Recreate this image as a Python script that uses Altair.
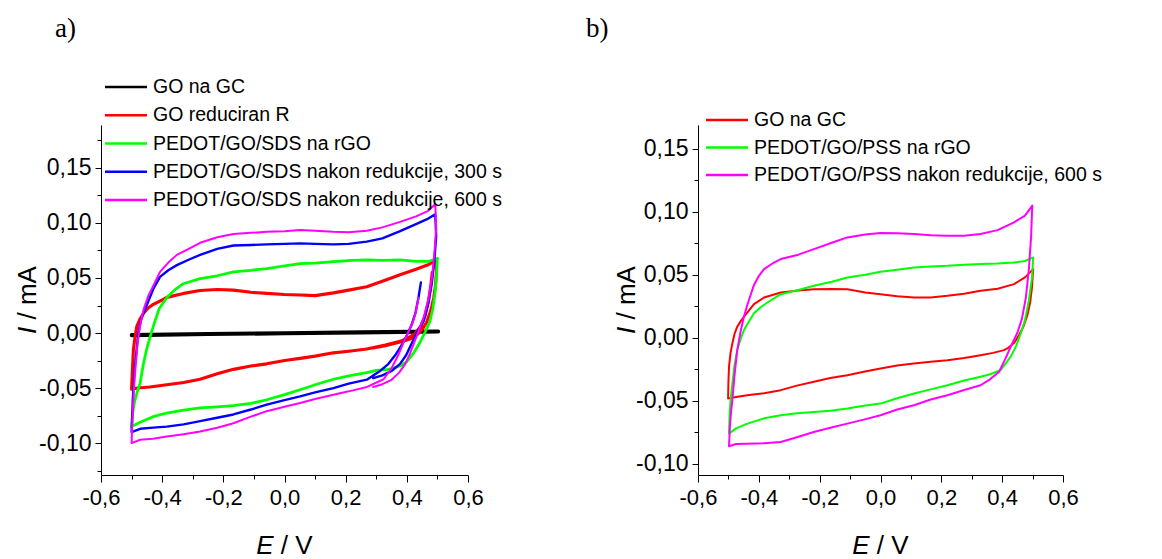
import altair as alt
import pandas as pd

# ---------------- data (E / V, I / mA) ----------------
A_NAMES = ["GO na GC", "GO reduciran R", "PEDOT/GO/SDS na rGO",
           "PEDOT/GO/SDS nakon redukcije, 300 s", "PEDOT/GO/SDS nakon redukcije, 600 s"]
A_COLORS = ["#000000", "#ff0000", "#00ff00", "#0000ff", "#ff00ff"]
A_WIDTHS = [3.5, 2, 2, 2, 2]

B_NAMES = ["GO na GC", "PEDOT/GO/PSS na rGO", "PEDOT/GO/PSS nakon redukcije, 600 s"]
B_COLORS = ["#ff0000", "#00ff00", "#ff00ff"]
B_WIDTHS = [2, 2, 2]

A_BLACK = [(-0.500, -0.0015), (-0.25, -0.0007), (0.0, 0.0001), (0.25, 0.0009), (0.503, 0.0017),
           (0.503, 0.0011), (0.25, 0.0003), (0.0, -0.0005), (-0.25, -0.0012), (-0.500, -0.0022)]

A_RED = [(0.483, 0.055), (0.478, 0.042), (0.470, 0.028), (0.460, 0.016), (0.445, 0.006), (0.425, -0.001),
         (0.400, -0.005), (0.378, -0.0076), (0.330, -0.011), (0.269, -0.0145), (0.210, -0.0165), (0.160, -0.018),
         (0.100, -0.021), (0.051, -0.023), (0.000, -0.025), (-0.058, -0.028), (-0.110, -0.030), (-0.167, -0.033),
         (-0.220, -0.037), (-0.276, -0.042), (-0.330, -0.045), (-0.385, -0.047), (-0.440, -0.049), (-0.480, -0.050),
         (-0.500, -0.051), (-0.497, -0.032), (-0.494, -0.015), (-0.489, -0.004), (-0.483, 0.006), (-0.472, 0.013),
         (-0.461, 0.018), (-0.445, 0.023), (-0.429, 0.026), (-0.400, 0.030), (-0.385, 0.0324), (-0.330, 0.036),
         (-0.276, 0.0386), (-0.220, 0.0395), (-0.167, 0.039), (-0.110, 0.037), (-0.058, 0.036), (0.000, 0.035),
         (0.051, 0.0345), (0.100, 0.034), (0.160, 0.0365), (0.210, 0.039), (0.269, 0.042), (0.320, 0.047),
         (0.378, 0.053), (0.430, 0.058), (0.470, 0.062), (0.493, 0.066), (0.497, 0.056), (0.494, 0.044),
         (0.488, 0.032), (0.478, 0.020), (0.465, 0.010), (0.450, 0.003), (0.432, -0.002), (0.410, -0.0055),
         (0.385, -0.0078), (0.330, -0.0115), (0.290, -0.0135)]

A_GREEN = [(-0.500, -0.085), (-0.496, -0.072), (-0.490, -0.062), (-0.481, -0.053), (-0.472, -0.0455),
           (-0.462, -0.029), (-0.451, -0.015), (-0.440, -0.004), (-0.429, 0.006), (-0.410, 0.022),
           (-0.385, 0.032), (-0.360, 0.039), (-0.331, 0.0448), (-0.276, 0.0494), (-0.220, 0.052),
           (-0.167, 0.0556), (-0.110, 0.057), (-0.058, 0.0586), (0.000, 0.061), (0.051, 0.063), (0.100, 0.0635),
           (0.160, 0.0648), (0.220, 0.066), (0.269, 0.0665), (0.320, 0.066), (0.378, 0.0664), (0.430, 0.065),
           (0.470, 0.065), (0.500, 0.068), (0.497, 0.052), (0.492, 0.036), (0.485, 0.022), (0.475, 0.010),
           (0.460, 0.001), (0.440, -0.010), (0.420, -0.019), (0.400, -0.026), (0.378, -0.030), (0.340, -0.033),
           (0.300, -0.034), (0.269, -0.036), (0.210, -0.039), (0.160, -0.042), (0.100, -0.047), (0.051, -0.0515),
           (0.000, -0.056), (-0.058, -0.0606), (-0.110, -0.064), (-0.167, -0.066), (-0.220, -0.067),
           (-0.276, -0.068), (-0.330, -0.070), (-0.385, -0.0727), (-0.430, -0.076), (-0.472, -0.081),
           (-0.500, -0.085)]

A_BLUE = [(0.446, 0.046), (0.438, 0.032), (0.428, 0.018), (0.415, 0.007), (0.400, -0.002), (0.385, -0.010),
          (0.365, -0.019), (0.340, -0.028), (0.310, -0.035), (0.269, -0.0424), (0.210, -0.046), (0.160, -0.050),
          (0.100, -0.054), (0.051, -0.0576), (0.000, -0.061), (-0.058, -0.065), (-0.110, -0.0695), (-0.167, -0.074),
          (-0.220, -0.077), (-0.276, -0.080), (-0.330, -0.083), (-0.385, -0.085), (-0.430, -0.086), (-0.472, -0.087),
          (-0.500, -0.090), (-0.496, -0.060), (-0.489, -0.030), (-0.478, 0.000), (-0.470, 0.011), (-0.461, 0.018),
          (-0.445, 0.029), (-0.429, 0.040), (-0.407, 0.051), (-0.380, 0.057), (-0.352, 0.0617), (-0.310, 0.067),
          (-0.276, 0.071), (-0.220, 0.0765), (-0.167, 0.0795), (-0.110, 0.080), (-0.058, 0.0805), (0.000, 0.081),
          (0.051, 0.0815), (0.100, 0.081), (0.160, 0.0805), (0.210, 0.081), (0.269, 0.083), (0.320, 0.086),
          (0.378, 0.0926), (0.430, 0.099), (0.470, 0.104), (0.493, 0.108), (0.496, 0.088), (0.490, 0.066),
          (0.482, 0.046), (0.470, 0.027), (0.455, 0.011), (0.432, 0.000), (0.415, -0.010), (0.398, -0.020),
          (0.378, -0.028), (0.350, -0.0345), (0.320, -0.0385), (0.290, -0.0410)]

A_MAGENTA = [(0.438, 0.032), (0.430, 0.020), (0.420, 0.010), (0.405, 0.001), (0.390, -0.008), (0.372, -0.020),
             (0.350, -0.032), (0.324, -0.042), (0.270, -0.049), (0.210, -0.053), (0.160, -0.056), (0.100, -0.060),
             (0.051, -0.0636), (0.000, -0.067), (-0.058, -0.071), (-0.110, -0.076), (-0.167, -0.082),
             (-0.220, -0.086), (-0.276, -0.0894), (-0.330, -0.092), (-0.385, -0.094), (-0.430, -0.096),
             (-0.472, -0.097), (-0.500, -0.100), (-0.496, -0.070), (-0.490, -0.040), (-0.480, -0.008),
             (-0.470, 0.010), (-0.460, 0.022), (-0.445, 0.034), (-0.429, 0.043), (-0.407, 0.0556), (-0.380, 0.064),
             (-0.352, 0.071), (-0.310, 0.077), (-0.276, 0.082), (-0.220, 0.087), (-0.167, 0.090), (-0.110, 0.091),
             (-0.058, 0.092), (0.000, 0.0925), (0.051, 0.0935), (0.100, 0.093), (0.160, 0.092), (0.210, 0.0915),
             (0.269, 0.093), (0.320, 0.096), (0.378, 0.101), (0.430, 0.106), (0.470, 0.111), (0.493, 0.117),
             (0.496, 0.095), (0.490, 0.072), (0.482, 0.050), (0.470, 0.030), (0.455, 0.014), (0.440, 0.003),
             (0.425, -0.008), (0.410, -0.019), (0.395, -0.028), (0.375, -0.036), (0.350, -0.0425), (0.320, -0.0465),
             (0.290, -0.0490)]

B_RED = [(-0.501, -0.0483), (-0.500, -0.035), (-0.498, -0.023), (-0.493, -0.012), (-0.487, -0.0045),
         (-0.480, 0.003), (-0.471, 0.0088), (-0.460, 0.013), (-0.449, 0.0167), (-0.438, 0.020), (-0.416, 0.0267),
         (-0.383, 0.032), (-0.328, 0.036), (-0.270, 0.0375), (-0.219, 0.0386), (-0.160, 0.0388), (-0.109, 0.0386),
         (-0.050, 0.036), (0.000, 0.0346), (0.055, 0.033), (0.110, 0.032), (0.165, 0.032), (0.220, 0.0333),
         (0.275, 0.035), (0.329, 0.0373), (0.385, 0.039), (0.439, 0.0426), (0.475, 0.048), (0.502, 0.0545),
         (0.498, 0.040), (0.492, 0.028), (0.483, 0.018), (0.470, 0.009), (0.455, 0.002), (0.440, -0.004),
         (0.420, -0.008), (0.406, -0.0098), (0.370, -0.012), (0.329, -0.0138), (0.275, -0.016), (0.220, -0.0178),
         (0.165, -0.019), (0.110, -0.0204), (0.055, -0.022), (0.000, -0.0244), (-0.055, -0.027), (-0.109, -0.0297),
         (-0.165, -0.032), (-0.219, -0.035), (-0.275, -0.038), (-0.328, -0.0416), (-0.383, -0.044),
         (-0.438, -0.0456), (-0.475, -0.047), (-0.501, -0.0483)]

B_GREEN = [(-0.498, -0.0761), (-0.496, -0.060), (-0.492, -0.047), (-0.487, -0.0363), (-0.480, -0.022),
           (-0.471, -0.0098), (-0.460, -0.001), (-0.449, 0.0061), (-0.435, 0.012), (-0.416, 0.0194),
           (-0.395, 0.024), (-0.372, 0.028), (-0.328, 0.0346), (-0.270, 0.038), (-0.219, 0.0413), (-0.160, 0.0445),
           (-0.109, 0.0479), (-0.050, 0.050), (0.000, 0.0524), (0.055, 0.054), (0.110, 0.0558), (0.165, 0.0567),
           (0.220, 0.0572), (0.275, 0.058), (0.329, 0.0585), (0.385, 0.059), (0.439, 0.0598), (0.475, 0.061),
           (0.502, 0.0638), (0.498, 0.048), (0.488, 0.030), (0.475, 0.014), (0.461, 0.0034), (0.445, -0.007),
           (0.428, -0.015), (0.410, -0.021), (0.395, -0.0257), (0.360, -0.029), (0.329, -0.031), (0.275, -0.034),
           (0.220, -0.0377), (0.165, -0.041), (0.110, -0.0443), (0.055, -0.048), (0.000, -0.0523),
           (-0.055, -0.054), (-0.109, -0.0562), (-0.165, -0.058), (-0.219, -0.0589), (-0.275, -0.060),
           (-0.328, -0.0615), (-0.383, -0.064), (-0.438, -0.0682), (-0.475, -0.072), (-0.498, -0.0761)]

B_MAGENTA = [(-0.498, -0.0862), (-0.495, -0.070), (-0.491, -0.058), (-0.487, -0.0496), (-0.480, -0.030),
             (-0.471, -0.0098), (-0.460, 0.005), (-0.449, 0.0167), (-0.438, 0.026), (-0.427, 0.034),
             (-0.416, 0.042), (-0.400, 0.049), (-0.383, 0.0545), (-0.355, 0.059), (-0.328, 0.0625), (-0.270, 0.066),
             (-0.219, 0.0704), (-0.160, 0.0755), (-0.109, 0.0797), (-0.050, 0.082), (0.000, 0.0832), (0.055, 0.083),
             (0.110, 0.0824), (0.165, 0.0815), (0.220, 0.081), (0.275, 0.081), (0.329, 0.0824), (0.385, 0.0855),
             (0.439, 0.0917), (0.475, 0.097), (0.499, 0.105), (0.495, 0.080), (0.488, 0.055), (0.478, 0.032),
             (0.465, 0.015), (0.450, 0.004), (0.430, -0.006), (0.410, -0.017), (0.390, -0.027), (0.360, -0.033),
             (0.329, -0.0377), (0.275, -0.0415), (0.220, -0.0456), (0.165, -0.049), (0.110, -0.0536),
             (0.055, -0.057), (0.000, -0.0615), (-0.055, -0.065), (-0.109, -0.0682), (-0.165, -0.0715),
             (-0.219, -0.0748), (-0.275, -0.079), (-0.328, -0.0828), (-0.383, -0.0838), (-0.438, -0.0841),
             (-0.475, -0.0844), (-0.498, -0.0862)]

X_MAJOR = [-0.6, -0.4, -0.2, 0.0, 0.2, 0.4, 0.6]
X_MINOR = [-0.5, -0.3, -0.1, 0.1, 0.3, 0.5]
A_Y_MAJOR = [-0.10, -0.05, 0.0, 0.05, 0.10, 0.15]
A_Y_MINOR = [-0.125, -0.075, -0.025, 0.025, 0.075, 0.125, 0.175]
B_Y_MAJOR = [-0.10, -0.05, 0.0, 0.05, 0.10, 0.15]
B_Y_MINOR = [-0.075, -0.025, 0.025, 0.075, 0.125]
A_Y_DOMAIN = [-0.129, 0.189]
B_Y_DOMAIN = [-0.109, 0.169]
X_DOMAIN = [-0.6, 0.6]

FONT = "Liberation Sans"


def frame(curves, prefix):
    rows = []
    for s, pts in enumerate(curves):
        for k, (e, i) in enumerate(pts):
            rows.append({"key": f"{prefix}{s}", "E": e, "I": i, "k": k})
    return pd.DataFrame(rows)


def fmt(dec):
    return ("replace(replace(format(datum.value, '.%df'), '.', ','), '\u2212', '-')" % dec)


def text(t, x, y, size, font=FONT, style="normal", angle=0, align="left", baseline="alphabetic"):
    return alt.Chart(alt.Data(values=[{}])).mark_text(
        text=t, font=font, fontSize=size, fontStyle=style, angle=angle, align=align,
        baseline=baseline, color="black").encode(x=alt.value(x), y=alt.value(y))


def panel(df, keys, colors, widths, W, H, ydom, ymaj, ymin, names, leg, tag, tag_x, ytitle_x, anchors):
    xs = alt.Scale(domain=X_DOMAIN, nice=False, zero=False)
    ys = alt.Scale(domain=ydom, nice=False, zero=False)
    common = dict(grid=False, title=None, tickColor="black", tickWidth=1, domainColor="black",
                  domainWidth=1, labelColor="black", labelFont=FONT)
    x_major = alt.Axis(values=X_MAJOR, labelExpr=fmt(1), tickSize=7, labelFontSize=22, labelPadding=5,
                       orient="bottom", labelFlush=False, labelOverlap=False, **common)
    y_major = alt.Axis(values=ymaj, labelExpr=fmt(2), tickSize=6, labelFontSize=23, labelPadding=4,
                       orient="left", labelOverlap=False, **common)
    x_minor = alt.Axis(values=X_MINOR, labels=False, domain=False, tickSize=4, orient="bottom",
                       grid=False, title=None, tickColor="black", tickWidth=1)
    y_minor = alt.Axis(values=ymin, labels=False, domain=False, tickSize=4, orient="left",
                       grid=False, title=None, tickColor="black", tickWidth=1)

    lines = alt.Chart(df).mark_line(strokeJoin="round", strokeCap="round").encode(
        x=alt.X("E:Q", scale=xs, axis=x_major),
        y=alt.Y("I:Q", scale=ys, axis=y_major),
        color=alt.Color("key:N", scale=alt.Scale(domain=keys, range=colors), legend=None),
        strokeWidth=alt.StrokeWidth("key:N", scale=alt.Scale(domain=keys, range=widths), legend=None),
        order=alt.Order("k:Q"),
    )
    minor = alt.Chart(df).mark_point(opacity=0).encode(
        x=alt.X("E:Q", scale=xs, axis=x_minor),
        y=alt.Y("I:Q", scale=ys, axis=y_minor),
    )
    layers = [lines, minor]

    # legend (drawn by hand)
    lx0, lx1, tx, ly0, dy = leg
    for i, (nm, c) in enumerate(zip(names, colors)):
        yy = ly0 + i * dy
        layers.append(alt.Chart(alt.Data(values=[{}])).mark_rule(color=c, strokeWidth=2.5).encode(
            x=alt.value(lx0), x2=alt.value(lx1), y=alt.value(yy)))
        layers.append(text(nm, tx, yy, 19.5, baseline="middle"))

    # axis titles with italic symbols (space widths added as offsets)
    fs = 26
    sp = 0.278 * fs
    ystart = H / 2 + 34
    layers.append(text("I", ytitle_x, ystart, fs, style="italic", angle=270, baseline="middle"))
    layers.append(text("/ mA", ytitle_x, ystart - 7.2 - sp, fs, angle=270, baseline="middle"))
    xstart = W / 2 - 28.2
    layers.append(text("E", xstart, H + 79, fs, style="italic"))
    layers.append(text("/ V", xstart + 17.3 + sp, H + 79, fs))

    # panel tag
    layers.append(text(tag, tag_x, -88, 27, font="Liberation Serif"))

    # invisible layout anchors
    for ax, ay in anchors:
        layers.append(alt.Chart(alt.Data(values=[{}])).mark_rule(opacity=0, strokeOpacity=0).encode(
            x=alt.value(ax), x2=alt.value(ax + 1), y=alt.value(ay)))

    return alt.layer(*layers).resolve_axis(x="independent", y="independent").properties(width=W, height=H)


dfa = frame([A_BLACK, A_RED, A_GREEN, A_BLUE, A_MAGENTA], "a")
dfb = frame([B_RED, B_GREEN, B_MAGENTA], "b")

pa = panel(dfa, [f"a{i}" for i in range(5)], A_COLORS, A_WIDTHS, 367, 350, A_Y_DOMAIN, A_Y_MAJOR, A_Y_MINOR,
           A_NAMES, (4, 46, 52, -38, 28.25), "a)", -46, -73, [(-93, -117), (429, -117)])
pb = panel(dfb, [f"b{i}" for i in range(3)], B_COLORS, B_WIDTHS, 365, 350, B_Y_DOMAIN, B_Y_MAJOR, B_Y_MINOR,
           B_NAMES, (8, 50, 56, -5, 27.5), "b)", -112, -71, [(-117, -117)])

chart = alt.hconcat(pa, pb, spacing=50).resolve_scale(
    color="independent", strokeWidth="independent"
).properties(padding=0).configure_view(stroke=None)

chart.save("out.html", embed_options={"renderer": "svg", "actions": False})
